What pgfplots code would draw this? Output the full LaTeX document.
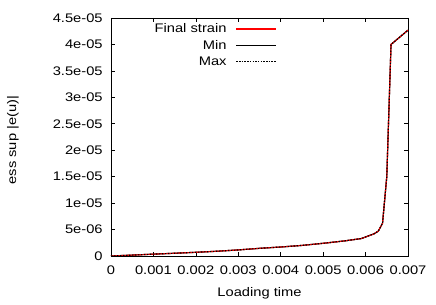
\documentclass[border=0pt]{standalone}
\usepackage{pgfplots}
\pgfplotsset{compat=1.18}
\usepackage{fontspec}
\setmainfont{Liberation Sans}[FakeStretch=1.18]
\begin{document}
\fontsize{12.5}{14}\selectfont
\pgfplotstableread{
t v
0 0
0.0005 0.17e-6
0.001 0.35e-6
0.0015 0.52e-6
0.002 0.70e-6
0.0025 0.90e-6
0.003 1.15e-6
0.0035 1.45e-6
0.004 1.70e-6
0.0045 2.00e-6
0.005 2.40e-6
0.0055 2.85e-6
0.0059 3.30e-6
0.0062 4.20e-6
0.0063 4.70e-6
0.0064 6.20e-6
0.0065 1.50e-5
0.0066 4.00e-5
0.007 4.27e-5
}\strain
\begin{tikzpicture}
\useasboundingbox (-111bp,-49bp) rectangle (325bp,256bp);
\begin{axis}[
  at={(0,0)}, anchor=south west,
  scale only axis, width=297bp, height=238bp,
  xmin=0, xmax=0.007, ymin=0, ymax=4.5e-5,
  axis line style={line width=0.8bp},
  tick style={line width=0.6bp, black},
  tick align=inside, major tick length=4bp,
  xtick={0,0.001,0.002,0.003,0.004,0.005,0.006,0.007},
  xticklabels={0,0.001,0.002,0.003,0.004,0.005,0.006,0.007},
  ytick={0,5e-6,1e-5,1.5e-5,2e-5,2.5e-5,3e-5,3.5e-5,4e-5,4.5e-5},
  yticklabels={0,5e-06,1e-05,1.5e-05,2e-05,2.5e-05,3e-05,3.5e-05,4e-05,4.5e-05},
  scaled ticks=false,
  /pgf/number format/assume math mode=true,
  xticklabel style={yshift=-5bp},
  yticklabel style={xshift=-4bp},
  xlabel={Loading time},
  ylabel={ess sup |e(u)|},
  xlabel style={at={(axis description cs:0.5,0)}, anchor=center, yshift=-37bp},
  ylabel style={at={(axis description cs:-0.33,0.487)}, anchor=center},
  legend cell align=right,
  legend plot pos=right,
  legend image code/.code={\draw[#1] (0bp,0bp) -- (40bp,0bp);},
  legend style={draw=none, fill=none, inner sep=0pt, at={(axis description cs:0.56,0.985)}, anchor=north east, row sep=1.5bp, /tikz/every odd column/.append style={column sep=7bp}},
]
\addlegendimage{red, line width=1.5bp}
\addlegendimage{black, line width=1.6bp}
\addlegendimage{black, line width=1.5bp, dash pattern=on 1.5bp off 1.2bp}
\addplot[black, line width=1.2bp, forget plot] table[x=t,y=v] {\strain};
\addplot[red, line width=1.1bp, forget plot] table[x=t,y=v] {\strain};
\addplot[black, line width=1.1bp, dash pattern=on 1.5bp off 1.5bp, forget plot] table[x=t,y=v] {\strain};
\legend{Final strain, Min, Max}
\end{axis}
\end{tikzpicture}
\end{document}
